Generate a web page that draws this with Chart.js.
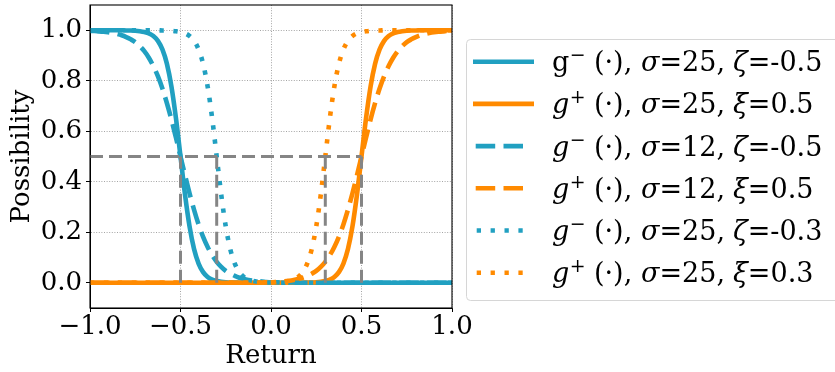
<!DOCTYPE html>
<html><head><meta charset="utf-8">
<script src="https://cdn.jsdelivr.net/npm/chart.js@4.4.0/dist/chart.umd.min.js"></script>
<style>html,body{margin:0;padding:0;background:#fff;overflow:hidden}#c{display:block}</style>
</head><body>
<canvas id="c" width="835" height="372"></canvas>
<script>
// x positions (Return)
const returns = [-1,-0.975,-0.95,-0.925,-0.9,-0.875,-0.85,-0.825,-0.8,-0.775,-0.75,-0.725,-0.7,-0.675,-0.65,-0.625,-0.6,-0.575,-0.55,-0.525,-0.5,-0.475,-0.45,-0.425,-0.4,-0.375,-0.35,-0.325,-0.3,-0.275,-0.25,-0.225,-0.2,-0.175,-0.15,-0.125,-0.1,-0.075,-0.05,-0.025,0,0.025,0.05,0.075,0.1,0.125,0.15,0.175,0.2,0.225,0.25,0.275,0.3,0.325,0.35,0.375,0.4,0.425,0.45,0.475,0.5,0.525,0.55,0.575,0.6,0.625,0.65,0.675,0.7,0.725,0.75,0.775,0.8,0.825,0.85,0.875,0.9,0.925,0.95,0.975,1];

// g-(.), sigma=25, zeta=-0.5
const gMinusS25Zm05 = [1,1,1,1,1,1,1,1,0.999,0.999,0.998,0.996,0.993,0.988,0.977,0.958,0.924,0.867,0.777,0.651,0.5,0.349,0.223,0.133,0.076,0.042,0.023,0.012,0.007,0.004,0.002,0.001,0.001,
  0,0,0,0,0,0,0,0, 0,0,0,0,0,0,0,0, 0,0,0,0,0,0,0,0, 0,0,0,0,0,0,0,0, 0,0,0,0,0,0,0,0, 0,0,0,0,0,0,0,0];
// g+(.), sigma=25, xi=0.5
const gPlusS25X05 = [0,0,0,0,0,0,0,0, 0,0,0,0,0,0,0,0, 0,0,0,0,0,0,0,0, 0,0,0,0,0,0,0,0, 0,0,0,0,0,0,0,0, 0,0,0,0,0,0,0,0,
  0.001,0.001,0.002,0.004,0.007,0.012,0.023,0.042,0.076,0.133,0.223,0.349,0.5,0.651,0.777,0.867,0.924,0.958,0.977,0.988,0.993,0.996,0.998,0.999,0.999,1,1,1,1,1,1,1,1];
// g-(.), sigma=12, zeta=-0.5
const gMinusS12Zm05 = [0.997,0.997,0.995,0.994,0.992,0.989,0.985,0.980,0.973,0.964,0.953,0.937,0.917,0.891,0.858,0.818,0.769,0.711,0.646,0.574,0.5,0.426,0.354,0.289,0.231,0.182,0.142,0.109,0.083,0.063,0.047,0.036,0.027,0.020,0.015,0.011,0.008,0.006,0.005,0.003,0.002,0.002,0.001,0.001,0.001,0.001,
  0,0,0,0,0,0,0,0, 0,0,0,0,0,0,0,0, 0,0,0,0,0,0,0,0, 0,0,0,0,0,0,0,0, 0,0,0];
// g+(.), sigma=12, xi=0.5
const gPlusS12X05 = [0,0,0,0,0,0,0,0, 0,0,0,0,0,0,0,0, 0,0,0,0,0,0,0,0, 0,0,0,0,0,0,0,0, 0,0,0,
  0.001,0.001,0.001,0.001,0.002,0.002,0.003,0.005,0.006,0.008,0.011,0.015,0.020,0.027,0.036,0.047,0.063,0.083,0.109,0.142,0.182,0.231,0.289,0.354,0.426,0.5,0.574,0.646,0.711,0.769,0.818,0.858,0.891,0.917,0.937,0.953,0.964,0.973,0.980,0.985,0.989,0.992,0.994,0.995,0.997,0.997];
// g-(.), sigma=25, zeta=-0.3
const gMinusS25Zm03 = [1,1,1,1,1,1,1,1,1,1,1,1,1,1,1,1,
  0.999,0.999,0.998,0.996,0.993,0.988,0.977,0.958,0.924,0.867,0.777,0.651,0.5,0.349,0.223,0.133,0.076,0.042,0.023,0.012,0.007,0.004,0.002,0.001,0.001,
  0,0,0,0,0,0,0,0, 0,0,0,0,0,0,0,0, 0,0,0,0,0,0,0,0, 0,0,0,0,0,0,0,0, 0,0,0,0,0,0,0,0];
// g+(.), sigma=25, xi=0.3
const gPlusS25X03 = [0,0,0,0,0,0,0,0, 0,0,0,0,0,0,0,0, 0,0,0,0,0,0,0,0, 0,0,0,0,0,0,0,0, 0,0,0,0,0,0,0,0,
  0.001,0.001,0.002,0.004,0.007,0.012,0.023,0.042,0.076,0.133,0.223,0.349,0.5,0.651,0.777,0.867,0.924,0.958,0.977,0.988,0.993,0.996,0.998,0.999,0.999,
  1,1,1,1,1,1,1,1,1,1,1,1,1,1,1,1];

// ticks
const xTicks = [-1,-0.5,0,0.5,1];
const xTickLabels = ['\u22121.0','\u22120.5','0.0','0.5','1.0'];
const yTicks = [0,0.2,0.4,0.6,0.8,1.0];
const yTickLabels = ['0.0','0.2','0.4','0.6','0.8','1.0'];

// guide lines
const guideLevel = 0.5;
const guideHStart = -1;
const guideHEnd = 0.5;
const guideXs = [-0.5,-0.3,0.3,0.5];

// legend text parts
const legendFns = ['g','g','g','g','g','g'];
const legendSigns = ['\u2212','+','\u2212','+','\u2212','+'];
const legendSigmas = ['25','25','12','12','25','25'];
const legendParams = ['\u03b6','\u03be','\u03b6','\u03be','\u03b6','\u03be'];
const legendParamVals = ['-0.5','0.5','-0.5','0.5','-0.3','0.3'];

const BLUE = '#21a0c1';
const ORANGE = '#ff8a00';
const GRAY = '#858585';
const DASH = [19.5, 8.3];
const DOT = [4.3, 9.6];
const SERIF = '"DejaVu Serif", serif';

const seriesList = [gMinusS25Zm05, gPlusS25X05, gMinusS12Zm05, gPlusS12X05, gMinusS25Zm03, gPlusS25X03];
const seriesColors = [BLUE, ORANGE, BLUE, ORANGE, BLUE, ORANGE];
const seriesDash = [[], [], DASH, DASH, DOT, DOT];

const datasets = seriesList.map((ys, i) => ({
  data: returns.map((x, j) => ({x: x, y: ys[j]})),
  borderColor: seriesColors[i],
  borderWidth: 4.6,
  borderDash: seriesDash[i],
  borderCapStyle: 'butt',
  pointRadius: 0,
  fill: false,
  cubicInterpolationMode: 'monotone',
  order: 10 - i
}));
datasets.push({
  data: [{x: guideHStart, y: guideLevel}, {x: guideHEnd, y: guideLevel}],
  borderColor: GRAY, borderWidth: 3, borderDash: [13, 6], pointRadius: 0, fill: false, order: 0
});
guideXs.forEach(gx => datasets.push({
  data: [{x: gx, y: 0}, {x: gx, y: guideLevel}],
  borderColor: GRAY, borderWidth: 3, borderDash: [13, 6], pointRadius: 0, fill: false, order: 0
}));

const LEG = 27;
const frameAndLegend = {
  id: 'frameAndLegend',
  afterDraw(chart) {
    const ctx = chart.ctx;
    const a = chart.chartArea;
    ctx.save();
    ctx.setLineDash([]);
    ctx.strokeStyle = '#000';
    ctx.lineWidth = 1.1;
    ctx.strokeRect(a.left, a.top, a.right - a.left, a.bottom - a.top);

    // legend frame
    const bx = 466.5, by = 39.5, bw = 400, bh = 261, r = 4;
    ctx.beginPath();
    ctx.moveTo(bx + r, by);
    ctx.lineTo(bx + bw - r, by);
    ctx.arcTo(bx + bw, by, bx + bw, by + r, r);
    ctx.lineTo(bx + bw, by + bh - r);
    ctx.arcTo(bx + bw, by + bh, bx + bw - r, by + bh, r);
    ctx.lineTo(bx + r, by + bh);
    ctx.arcTo(bx, by + bh, bx, by + bh - r, r);
    ctx.lineTo(bx, by + r);
    ctx.arcTo(bx, by, bx + r, by, r);
    ctx.closePath();
    ctx.fillStyle = 'rgba(255,255,255,0.8)';
    ctx.fill();
    ctx.strokeStyle = '#d6d6d6';
    ctx.lineWidth = 1;
    ctx.stroke();

    for (let i = 0; i < 6; i++) {
      const cy = 61.7 + i * 42.2;
      const dash = seriesDash[i];
      ctx.strokeStyle = seriesColors[i];
      ctx.lineWidth = 4.6;
      ctx.lineCap = 'butt';
      ctx.setLineDash(dash);
      let x0 = 473, x1 = 534;
      if (dash === DASH) { x0 = 475.7; x1 = 524.5; }
      else if (dash === DOT) { x0 = 476.7; x1 = 522.7; }
      ctx.beginPath(); ctx.moveTo(x0, cy); ctx.lineTo(x1, cy); ctx.stroke();
      ctx.setLineDash([]);

      const base = cy + 9.4;
      ctx.fillStyle = '#000';
      ctx.textBaseline = 'alphabetic';
      ctx.textAlign = 'left';
      ctx.font = (i === 0 ? '' : 'italic ') + LEG + 'px ' + SERIF;
      ctx.fillText(legendFns[i], 552, base);
      const gw = ctx.measureText(legendFns[i]).width;
      ctx.font = (LEG * 0.7) + 'px ' + SERIF;
      ctx.fillText(legendSigns[i], 552 + gw + 0.5, base - 10);
      ctx.font = LEG + 'px ' + SERIF;
      ctx.fillText('(\u00b7),', 594, base);
      ctx.font = 'italic ' + LEG + 'px ' + SERIF;
      ctx.fillText('\u03c3', 641, base);
      let w = ctx.measureText('\u03c3').width;
      ctx.font = LEG + 'px ' + SERIF;
      ctx.fillText('=' + legendSigmas[i] + ',', 641 + w, base);
      ctx.font = 'italic ' + LEG + 'px ' + SERIF;
      ctx.fillText(legendParams[i], 733, base);
      w = ctx.measureText(legendParams[i]).width;
      ctx.font = LEG + 'px ' + SERIF;
      ctx.fillText('=' + legendParamVals[i], 733 + w, base);
    }
    ctx.restore();
  }
};

const tickFont = {family: SERIF, size: 26};
new Chart(document.getElementById('c'), {
  type: 'line',
  data: {datasets: datasets},
  options: {
    responsive: false,
    animation: false,
    devicePixelRatio: 1,
    layout: {padding: {left: 0, right: 383, top: 5, bottom: 0}},
    plugins: {legend: {display: false}, tooltip: {enabled: false}},
    scales: {
      x: {
        type: 'linear', min: -1, max: 1,
        afterBuildTicks: s => { s.ticks = xTicks.map(v => ({value: v})); },
        afterFit: s => { s.height = 64; s.paddingLeft = 0; s.paddingRight = 0; },
        ticks: {autoSkip: false, maxRotation: 0, minRotation: 0, padding: 0, color: '#000', font: tickFont,
          callback: (v, i) => xTickLabels[i]},
        grid: {color: 'rgba(0,0,0,0.45)', lineWidth: 0.8, tickLength: 4, tickColor: '#000', tickWidth: 1, tickBorderDash: []},
        border: {display: true, color: '#000', width: 1, dash: [1, 1.6]},
        title: {display: true, text: 'Return', color: '#000', font: {family: SERIF, size: 26}, padding: {top: 0, bottom: 0}}
      },
      y: {
        type: 'linear', min: -0.1, max: 1.1,
        afterBuildTicks: s => { s.ticks = yTicks.map(v => ({value: v})); },
        afterFit: s => { s.width = 90; s.paddingTop = 0; s.paddingBottom = 0; },
        ticks: {autoSkip: false, padding: 4, color: '#000', font: tickFont,
          callback: (v, i) => yTickLabels[i]},
        grid: {color: 'rgba(0,0,0,0.45)', lineWidth: 0.8, tickLength: 4, tickColor: '#000', tickWidth: 1, tickBorderDash: []},
        border: {display: true, color: '#000', width: 1, dash: [1, 1.6]},
        title: {display: true, text: 'Possibility', color: '#000', font: {family: SERIF, size: 26}, padding: {top: 7, bottom: 0}}
      }
    }
  },
  plugins: [frameAndLegend]
});
</script>
</body></html>
